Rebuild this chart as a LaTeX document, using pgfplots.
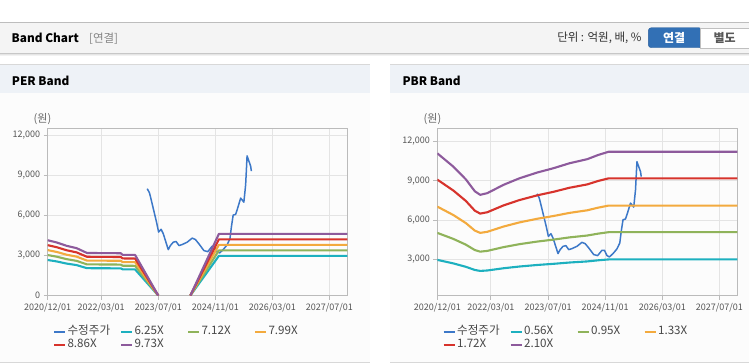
\documentclass[border=0pt]{standalone}
\usepackage{fontspec}
\setmainfont{Noto Sans CJK KR}
\usepackage{pgfplots}
\pgfplotsset{compat=1.18}
\definecolor{cprice}{HTML}{3C78C8}
\definecolor{ccyan}{HTML}{1DB0BF}
\definecolor{cgreen}{HTML}{8FB35A}
\definecolor{corange}{HTML}{F3AA3E}
\definecolor{cred}{HTML}{D7332C}
\definecolor{cpurple}{HTML}{8D5A9C}
\definecolor{gridc}{HTML}{E4E4E4}
\definecolor{axisc}{HTML}{BBBBBB}
\definecolor{tickc}{HTML}{555555}
\definecolor{hdrbg}{HTML}{F4F4F4}
\definecolor{hdrline}{HTML}{BDBDBD}
\definecolor{titlebg}{HTML}{EEF2F7}
\definecolor{panelbg}{HTML}{FCFCFC}
\definecolor{panelline}{HTML}{D8D8D8}
\definecolor{btnblue}{HTML}{3270B5}
\definecolor{btnborder}{HTML}{2A5F9C}
\newcommand{\LE}[1]{\makebox[54bp][l]{\hspace{1.5bp}#1}}
\pgfplotsset{bandaxis/.style={
  scale only axis, anchor=south west, height=167.2bp,
  xmin=0, xmax=84,
  xtick={0,15,31,47,63,79},
  xticklabels={2020/12/01,2022/03/01,2023/07/01,2024/11/01,2026/03/01,2027/07/01},
  grid=major, major grid style={gridc, line width=0.8bp},
  axis line style={axisc, line width=1bp},
  tick style={axisc, line width=0.8bp}, tick align=outside, major tick length=4bp, tick pos=left,
  ticklabel style={font=\fontsize{9bp}{10bp}\selectfont, text=tickc},
  /pgf/number format/assume math mode=true,
  /pgf/number format/1000 sep={,},
  scaled y ticks=false,
  unbounded coords=jump,
  no markers,
  every axis plot/.append style={line width=2.1bp, line join=round},
  legend columns=4,
  legend style={at={(0.0177,-0.185)}, anchor=north west, draw=none, fill=none,
    inner sep=0pt, outer sep=0pt,
    font=\fontsize{11.6bp}{12bp}\selectfont, text=black!72,
    nodes={inner xsep=0pt, inner ysep=0pt, text height=8bp, text depth=2.5bp},
    /tikz/row sep=2.5bp, /tikz/column sep=0pt},
  legend cell align=left,
  legend image code/.code={\draw[#1, line width=2bp] (0bp,0bp) -- (11bp,0bp);},
}}
\begin{document}
\begin{tikzpicture}
\path[use as bounding box] (0,0) rectangle (749bp,-364bp);
\fill[white] (0,0) rectangle (749bp,-364bp);
% header
\fill[hdrbg] (0,-22.5bp) rectangle (749bp,-52.5bp);
\draw[hdrline, line width=1.2bp] (0,-22.5bp) -- (749bp,-22.5bp);
\draw[black!22, line width=1bp] (0,-53bp) -- (749bp,-53bp);
\draw[black!10, line width=1bp] (0,-54bp) -- (749bp,-54bp);
\draw[black!5, line width=1bp] (0,-55bp) -- (749bp,-55bp);
\node[anchor=west, inner sep=0pt, font=\bfseries\fontsize{11.8bp}{13bp}\selectfont] at (11.5bp,-38.3bp) {Band Chart};
\node[anchor=west, inner sep=0pt, text=black!48, font=\fontsize{11.5bp}{12bp}\selectfont] at (89bp,-38.3bp) {[연결]};
\node[anchor=east, inner sep=0pt, text=black!80, font=\fontsize{11.5bp}{12bp}\selectfont] at (641.7bp,-38.3bp) {단위 : 억원, 배, \%};
\draw[fill=btnblue, draw=btnborder, rounded corners=3bp] (648.3bp,-27.7bp) rectangle (702bp,-47.7bp);
\fill[btnblue] (695bp,-28.2bp) rectangle (700bp,-47.2bp);
\draw[fill=white, draw=black!25] (700bp,-27.7bp) rectangle (749.5bp,-47.7bp);
\node[text=white, inner sep=0pt, font=\bfseries\fontsize{12bp}{13bp}\selectfont] at (674.2bp,-37.7bp) {연결};
\node[text=black!65, inner sep=0pt, font=\bfseries\fontsize{12bp}{13bp}\selectfont] at (724.7bp,-37.7bp) {별도};
% panels
\fill[panelbg] (0,-64.7bp) rectangle (370bp,-362.7bp);
\fill[titlebg] (0,-64.7bp) rectangle (370bp,-92.7bp);
\draw[panelline, line width=1bp] (0,-64.7bp) -- (370bp,-64.7bp);
\draw[panelline, line width=1bp] (0,-362.7bp) -- (370bp,-362.7bp);
\fill[panelbg] (390bp,-64.7bp) rectangle (749bp,-362.7bp);
\fill[titlebg] (390bp,-64.7bp) rectangle (749bp,-92.7bp);
\draw[panelline, line width=1bp] (390bp,-64.7bp) -- (749bp,-64.7bp);
\draw[panelline, line width=1bp] (390bp,-362.7bp) -- (749bp,-362.7bp);
\node[anchor=west, inner sep=0pt, font=\bfseries\fontsize{11.8bp}{13bp}\selectfont] at (11.7bp,-80.7bp) {PER Band};
\node[anchor=west, inner sep=0pt, font=\bfseries\fontsize{11.8bp}{13bp}\selectfont] at (402.3bp,-80.7bp) {PBR Band};
\node[inner sep=0pt, text=black!60, font=\fontsize{11bp}{12bp}\selectfont] at (42.5bp,-118.7bp) {(원)};
\node[inner sep=0pt, text=black!60, font=\fontsize{11bp}{12bp}\selectfont] at (432.5bp,-118.7bp) {(원)};
% PER axis
\begin{axis}[bandaxis, at={(47.7bp,-295.5bp)}, width=299.6bp,
  ymin=0, ymax=12508, ytick={0,3000,6000,9000,12000}]
\addplot[cprice, line width=1.5bp] coordinates {
(27.9,7990)(28.5,7700)(28.8,7405)(29.7,6395)(30.5,5506)(31.1,4747)(31.8,4952)(32.4,4625)
(33.0,4116)(33.8,3433)(34.4,3737)(35.2,3987)(36.0,4040)(36.8,3737)(37.7,3813)(39.1,3987)
(40.5,4291)(41.4,4192)(42.4,3866)(43.8,3357)(44.9,3281)(46.1,3684)(46.8,3684)(47.5,3281)
(48.2,3180)(49.2,3433)(50.3,3790)(51.1,4245)(51.5,5126)(52.0,6015)(52.7,6069)(53.3,6570)
(54.1,7284)(54.5,7155)(55.0,6980)(55.5,8294)(55.9,10443)(56.4,10063)(56.9,9684)(57.1,9304)};
\addlegendentry{\LE{수정주가}}
\addplot[ccyan] coordinates {(0,2656)(2.5,2550)(5.3,2388)(8.1,2275)(11,2044)(20.5,2031)(21,1956)(24.5,1950)(31,0)(35,nan)(40,0)(48,2963)(84,2963)};
\addlegendentry{\LE{6.25X}}
\addplot[cgreen] coordinates {(0,3026)(2.5,2905)(5.3,2720)(8.1,2592)(11,2328)(20.5,2314)(21,2229)(24.5,2221)(31,0)(35,nan)(40,0)(48,3375)(84,3375)};
\addlegendentry{\LE{7.12X}}
\addplot[corange] coordinates {(0,3396)(2.5,3260)(5.3,3052)(8.1,2908)(11,2613)(20.5,2597)(21,2501)(24.5,2493)(31,0)(35,nan)(40,0)(48,3787)(84,3787)};
\addlegendentry{\LE{7.99X}}
\addplot[cred] coordinates {(0,3766)(2.5,3615)(5.3,3385)(8.1,3225)(11,2897)(20.5,2880)(21,2773)(24.5,2764)(31,0)(35,nan)(40,0)(48,4200)(84,4200)};
\addlegendentry{\LE{8.86X}}
\addplot[cpurple] coordinates {(0,4135)(2.5,3970)(5.3,3717)(8.1,3542)(11,3182)(20.5,3162)(21,3045)(24.5,3036)(31,0)(35,nan)(40,0)(48,4612)(84,4612)};
\addlegendentry{\LE{9.73X}}
\end{axis}
% PBR axis
\begin{axis}[bandaxis, at={(437.3bp,-295.5bp)}, width=300bp,
  ymin=236, ymax=12990, ytick={3000,6000,9000,12000}]
\addplot[cprice, line width=1.5bp] coordinates {
(27.9,7990)(28.5,7700)(28.8,7405)(29.7,6395)(30.5,5506)(31.1,4747)(31.8,4952)(32.4,4625)
(33.0,4116)(33.8,3433)(34.4,3737)(35.2,3987)(36.0,4040)(36.8,3737)(37.7,3813)(39.1,3987)
(40.5,4291)(41.4,4192)(42.4,3866)(43.8,3357)(44.9,3281)(46.1,3684)(46.8,3684)(47.5,3281)
(48.2,3180)(49.2,3433)(50.3,3790)(51.1,4245)(51.5,5126)(52.0,6015)(52.7,6069)(53.3,6570)
(54.1,7284)(54.5,7155)(55.0,6980)(55.5,8294)(55.9,10443)(56.4,10063)(56.9,9684)(57.1,9304)};
\addlegendentry{\LE{수정주가}}
\addplot[ccyan] coordinates {(0,2955)(4.5,2684)(8,2425)(10.5,2184)(12,2111)(14,2145)(18.5,2313)(23,2447)(28,2565)(32.5,2652)(37,2752)(42,2836)(45,2920)(48,2988)(84,2988)};
\addlegendentry{\LE{0.56X}}
\addplot[cgreen] coordinates {(0,5013)(4.5,4552)(8,4114)(10.5,3705)(12,3581)(14,3639)(18.5,3924)(23,4152)(28,4351)(32.5,4498)(37,4669)(42,4812)(45,4954)(48,5068)(84,5068)};
\addlegendentry{\LE{0.95X}}
\addplot[corange] coordinates {(0,7018)(4.5,6373)(8,5759)(10.5,5187)(12,5013)(14,5094)(18.5,5493)(23,5812)(28,6091)(32.5,6298)(37,6537)(42,6736)(45,6936)(48,7096)(84,7096)};
\addlegendentry{\LE{1.33X}}
\addplot[cred] coordinates {(0,9076)(4.5,8242)(8,7448)(10.5,6708)(12,6483)(14,6588)(18.5,7104)(23,7516)(28,7878)(32.5,8144)(37,8454)(42,8712)(45,8970)(48,9176)(84,9176)};
\addlegendentry{\LE{1.72X}}
\addplot[cpurple] coordinates {(0,11082)(4.5,10063)(8,9093)(10.5,8190)(12,7915)(14,8043)(18.5,8673)(23,9177)(28,9618)(32.5,9944)(37,10322)(42,10637)(45,10952)(48,11204)(84,11204)};
\addlegendentry{\LE{2.10X}}
\end{axis}
\end{tikzpicture}
\end{document}
